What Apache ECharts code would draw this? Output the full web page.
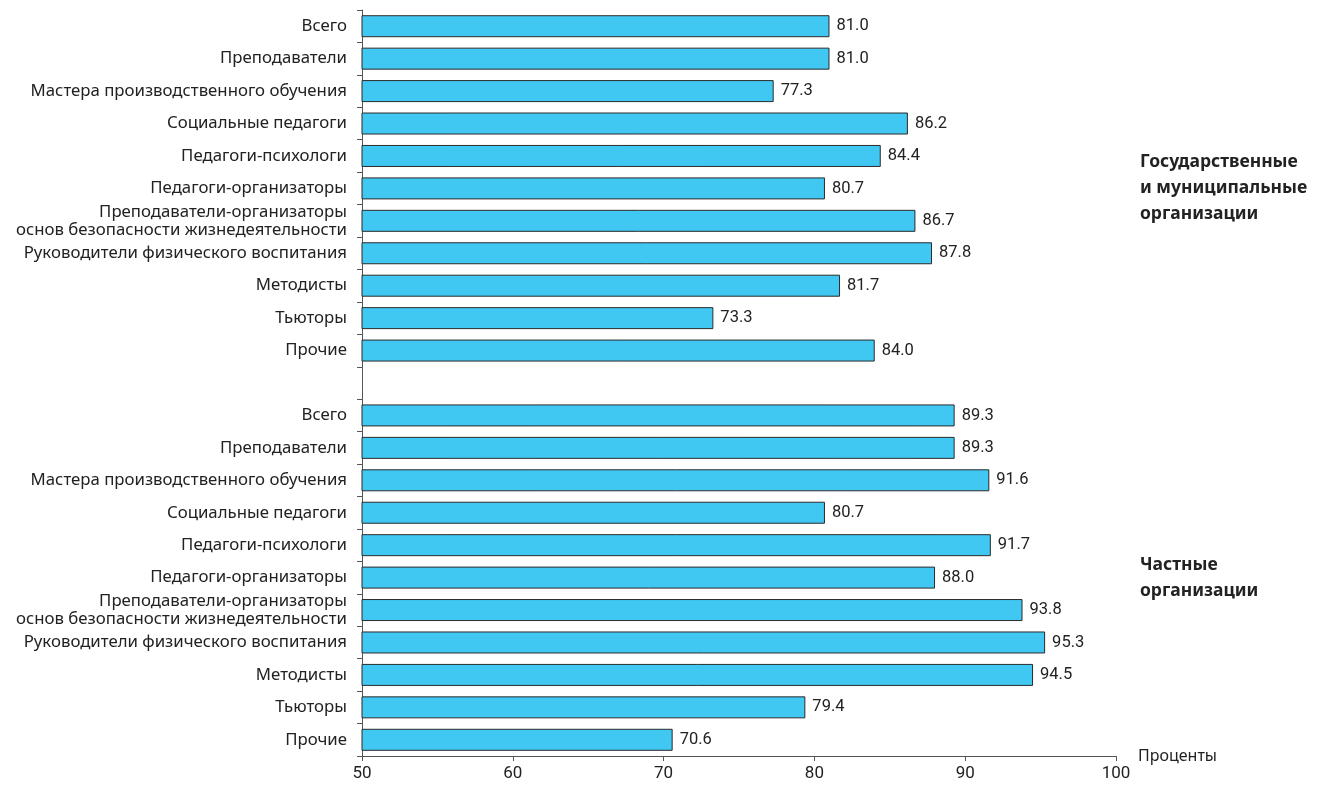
<!DOCTYPE html>
<html>
<head>
<meta charset="utf-8">
<script src="https://cdn.jsdelivr.net/npm/echarts@6/dist/echarts.min.js"></script>
<style>html,body{margin:0;padding:0;background:#fff;}#c{width:1319px;height:788px;}</style>
</head>
<body>
<div id="c"></div>
<script>
const roles = [
  'Всего',
  'Преподаватели',
  'Мастера производственного обучения',
  'Социальные педагоги',
  'Педагоги-психологи',
  'Педагоги-организаторы',
  'Преподаватели-организаторы\nоснов безопасности жизнедеятельности',
  'Руководители физического воспитания',
  'Методисты',
  'Тьюторы',
  'Прочие'
];
const stateValues = [81.0, 81.0, 77.3, 86.2, 84.4, 80.7, 86.7, 87.8, 81.7, 73.3, 84.0];
const privateValues = [89.3, 89.3, 91.6, 80.7, 91.7, 88.0, 93.8, 95.3, 94.5, 79.4, 70.6];
const groupNames = ['Государственные\nи муниципальные\nорганизации', 'Частные\nорганизации'];
const xTicks = [50, 60, 70, 80, 90, 100];

const categories = roles.concat(['']).concat(roles);
const values = stateValues.concat([null]).concat(privateValues);

const chart = echarts.init(document.getElementById('c'), null, {renderer: 'canvas'});
const catFont = '"Noto Sans", sans-serif';
const numFont = '"Roboto", sans-serif';

chart.setOption({
  animation: false,
  grid: {left: 362, right: 203, top: 10, bottom: 32, containLabel: false},
  xAxis: {
    type: 'value',
    min: xTicks[0], max: xTicks[xTicks.length - 1], interval: 10,
    splitLine: {show: false},
    axisLine: {show: true, lineStyle: {color: '#555', width: 1}},
    axisTick: {show: true, length: 5, lineStyle: {color: '#555'}},
    axisLabel: {color: '#222', fontSize: 17, fontFamily: numFont, margin: 9},
    name: 'Проценты',
    nameLocation: 'end',
    nameGap: 22,
    nameTextStyle: {color: '#222', fontSize: 16, fontFamily: catFont, verticalAlign: 'middle', align: 'left'}
  },
  yAxis: {
    type: 'category',
    data: categories,
    inverse: true,
    axisLine: {show: true, lineStyle: {color: '#555', width: 1}},
    axisTick: {show: true, length: 5, lineStyle: {color: '#555'}},
    axisLabel: {color: '#222', fontSize: 16.8, fontFamily: catFont, margin: 15, lineHeight: 18, interval: 0}
  },
  series: [{
    type: 'bar',
    data: values,
    barWidth: 22,
    itemStyle: {color: '#40C7F2', borderColor: '#2b2b2b', borderWidth: 1},
    label: {
      show: true, position: 'right', distance: 7,
      color: '#222', fontSize: 16.5, fontFamily: numFont,
      formatter: p => p.value == null ? '' : Number(p.value).toFixed(1)
    }
  }]
});

// group captions placed at the centre of each group, via the axis scale
const n = roles.length;
const centers = [(n - 1) / 2, n + 1 + (n - 1) / 2];
const graphics = groupNames.map((name, i) => {
  const y = chart.convertToPixel({yAxisIndex: 0}, centers[i]);
  const x = chart.convertToPixel({xAxisIndex: 0}, xTicks[xTicks.length - 1]);
  return {
    type: 'text', left: x + 24, top: y - name.split('\n').length * 13,
    style: {text: name, font: 'bold 17.5px "Noto Sans", sans-serif', fill: '#222', lineHeight: 26}
  };
});
chart.setOption({graphic: graphics});
</script>
</body>
</html>
